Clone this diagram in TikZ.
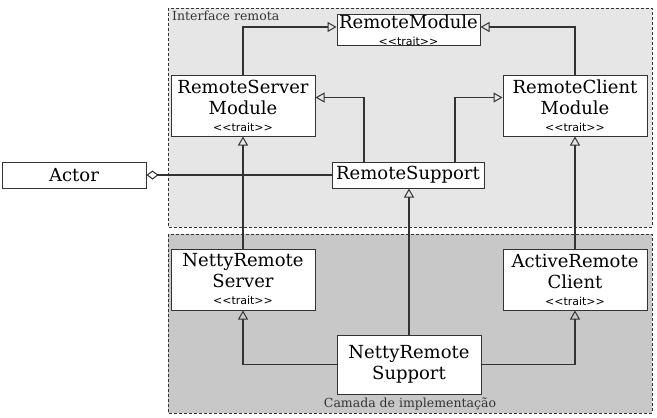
\documentclass[tikz,border=0pt]{standalone}
\usepackage{fontspec}
\setmainfont{DejaVu Serif}
\newfontfamily\trf[Ligatures=TeXOff]{DejaVu Sans}
\usetikzlibrary{arrows.meta}
\definecolor{topbg}{HTML}{E6E6E6}
\definecolor{botbg}{HTML}{C8C8C8}
\definecolor{edgec}{HTML}{333333}
\newcommand{\trt}{\\[-4pt]{\trf\fontsize{11}{11}\selectfont <<trait>>}}
\tikzset{
  box/.style={draw=edgec, line width=1pt, fill=white, inner sep=0pt, align=center,
    font=\fontsize{18}{21}\selectfont},
  layer/.style={draw=edgec, dash pattern=on 3pt off 2pt, line width=1pt},
  gen/.style={draw=edgec, line width=1.2pt, -{Triangle[open, length=9pt, width=10pt, line width=1pt]}},
  agg/.style={draw=edgec, line width=1.2pt, -{Diamond[open, length=12pt, width=9pt, line width=1pt]}},
  lbl/.style={font=\fontsize{12.5}{14}\selectfont, text=edgec, inner sep=0pt}
}
\begin{document}
\begin{tikzpicture}[x=1pt,y=-1pt]
\useasboundingbox (0,0) rectangle (657,418);
\draw[layer, fill=topbg] (168,8) rectangle (652,227);
\draw[layer, fill=botbg] (168,234) rectangle (652,413);
\node[lbl, anchor=north west] (lt) at (172,11) {Interface remota};
\node[lbl, anchor=south] (lb) at (410,410) {Camada de implementação};

\node[box, minimum width=143pt, minimum height=30pt] (RM) at (408.5,30) {RemoteModule\trt};
\node[box, minimum width=144pt, minimum height=61pt] (RSM) at (243,105.5) {RemoteServer\\Module\trt};
\node[box, minimum width=144pt, minimum height=61pt] (RCM) at (575,105.5) {RemoteClient\\Module\trt};
\node[box, minimum width=152pt, minimum height=26pt] (RS) at (408,175) {RemoteSupport};
\node[box, minimum width=144pt, minimum height=26pt] (Actor) at (74,175) {Actor};
\node[box, minimum width=144pt, minimum height=61pt] (NRS) at (243,279.5) {NettyRemote\\Server\trt};
\node[box, minimum width=144pt, minimum height=61pt] (ARC) at (575,279.5) {ActiveRemote\\Client\trt};
\node[box, minimum width=144pt, minimum height=59pt] (NRSup) at (409,364.5) {NettyRemote\\Support};

\draw[gen] (RSM.north) |- ([yshift=3pt]RM.west);
\draw[gen] (RCM.north) |- ([yshift=3pt]RM.east);
\draw[gen] ([xshift=-44pt]RS.north) |- ([yshift=8pt]RSM.east);
\draw[gen] ([xshift=47pt]RS.north) |- ([yshift=8pt]RCM.west);
\draw[agg] (RS.west) -- (Actor.east);
\draw[gen] (NRS.north) -- (RSM.south);
\draw[gen] (ARC.north) -- (RCM.south);
\draw[gen] (NRSup.north) -- (NRSup.north |- RS.south);
\draw[gen] (NRSup.west) -| (NRS.south);
\draw[gen] (NRSup.east) -| (ARC.south);
\end{tikzpicture}
\end{document}
